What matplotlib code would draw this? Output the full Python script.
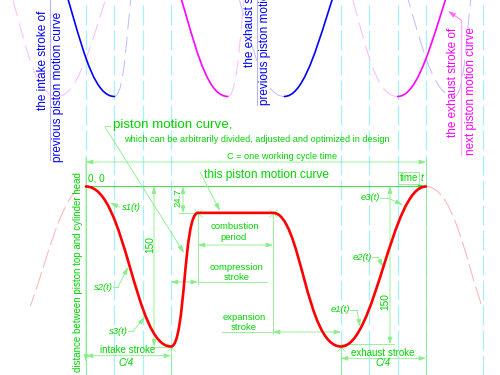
import matplotlib
matplotlib.use("Agg")

import matplotlib.pyplot as plt
from matplotlib.path import Path
from matplotlib.patches import PathPatch, Rectangle

plt.rcParams["font.family"] = ["Liberation Sans", "DejaVu Sans"]

# one working cycle C, measured as crank angle (C = 720)
C = 720
phase_t = [0, 180, 237, 396, 540, 720]
phase_s = [0, 150, 24.7, 24.7, 150, 0]
# bezier handle lengths (leaving, arriving) of each phase, 0 = straight
handle_out = [85, 31, 0, 60, 73]
handle_in = [78, 31, 0, 75, 73]

# previous (blue) and next (magenta) motion curves drawn above this one
copy_dt = [-120, 120]
copy_ds = -234.4
copy_color = ["#0000ff", "#ff00ff"]
copy_faint = ["#bcbcff", "#ffb8ff"]
copy_solid = [0, 4]  # intake and exhaust strokes
# (cycle, phase) pieces shown as faint dashes around the solid strokes
copy_ghost = [[(0, 1), (0, 3), (1, 0), (1, 1)],
              [(-1, 3), (-1, 4), (0, 1), (0, 3)]]

grid_t = [0, 60, 120, 180, 540, 600, 660, 720, 840]

# placement of the drawing on the 500x375 sheet
X0, Y0 = 86, 186.5
KX, KY = 340 / 720, 160 / 150
W, H = 500, 375

LG = "#88ee88"   # drafting lines
GT = "#00d400"   # green text


def t_at(x):
    return (x - X0) / KX


def s_at(y):
    return (y - Y0) / KY


def at(x, y):
    return t_at(x), s_at(y)


def motion_path(phases, cycle=0, dt=0.0, ds=0.0):
    verts, codes = [], []
    for i in phases:
        t0 = phase_t[i] + cycle * C + dt
        t1 = phase_t[i + 1] + cycle * C + dt
        s0, s1 = phase_s[i] + ds, phase_s[i + 1] + ds
        if not verts or verts[-1] != (t0, s0):
            verts.append((t0, s0))
            codes.append(Path.MOVETO)
        if handle_out[i]:
            verts += [(t0 + handle_out[i], s0), (t1 - handle_in[i], s1), (t1, s1)]
            codes += [Path.CURVE4] * 3
        else:
            verts.append((t1, s1))
            codes.append(Path.LINETO)
    return Path(verts, codes)


def draw_path(ax, path, **kw):
    patch = PathPatch(path, fill=False, capstyle="round", joinstyle="round", **kw)
    ax.add_patch(patch)
    return patch


fig = plt.figure(figsize=(5, 3.75), dpi=100)
ax = fig.add_axes([0, 0, 1, 1])
ax.set_xlim(t_at(0), t_at(W))
ax.set_ylim(s_at(H), s_at(0))
ax.axis("off")


def line(p0, p1, color=LG, lw=0.6, **kw):
    ax.plot([p0[0], p1[0]], [p0[1], p1[1]], color=color, lw=lw, **kw)


def dim(p0, p1):
    ax.annotate("", xy=p1, xytext=p0,
                arrowprops=dict(arrowstyle="<|-|>,head_length=0.45,head_width=0.15",
                                color=LG, lw=0.6, shrinkA=0, shrinkB=0,
                                mutation_scale=9))


def leader(p0, p1, color=LG):
    ax.annotate("", xy=p1, xytext=p0,
                arrowprops=dict(arrowstyle="-|>,head_length=0.5,head_width=0.15",
                                color=color, lw=0.6, shrinkA=0, shrinkB=0,
                                mutation_scale=9))


def label(x, y, text, size=7.0, color=GT, **kw):
    kw.setdefault("ha", "center")
    kw.setdefault("va", "center")
    return ax.text(*at(x, y), text, color=color, fontsize=size, **kw)


# cyan time divisions
for t in grid_t:
    ax.axvline(t, color="#a6f0ff", lw=0.9, ls=(0, (16, 4)), zorder=1)

# previous / next curves above
for dt, col, faint, ghost in zip(copy_dt, copy_color, copy_faint, copy_ghost):
    for k, i in ghost:
        draw_path(ax, motion_path([i], k, dt, copy_ds),
                  edgecolor=faint, lw=0.7, linestyle=(0, (16, 8)), zorder=2)
    for i in copy_solid:
        draw_path(ax, motion_path([i], 0, dt, copy_ds), edgecolor=col, lw=1.2, zorder=4)

# this piston motion curve, with faint neighbours
clip = Rectangle((t_at(0), s_at(0)), t_at(W) - t_at(0), 112 - s_at(0),
                 transform=ax.transData)
for phases, k in (([4], -1), ([0], 1)):
    p = draw_path(ax, motion_path(phases, k), edgecolor="#ffb0b0", lw=0.7,
                  linestyle=(0, (18, 6)), zorder=2)
    p.set_clip_path(clip)
draw_path(ax, motion_path(range(5)), edgecolor="#ff0000", lw=1.9, zorder=5)

ax.plot(phase_t[1:5], phase_s[1:5], ls="none", marker="x", ms=6, mew=0.5,
        color=LG, zorder=3)

# axes of the diagram
s_top, s_bot = s_at(158), s_at(H)
line((0, s_top), (0, s_bot))
line((C, s_top), (C, s_bot))
leader((0, s_top), (0, s_at(362)))
leader((0, 0), (C, 0), color="#22dd22")
dim((0, s_at(162)), (C, s_at(162)))
label(282, 157, "C = one working cycle time", size=6.6)
label(88, 179, "0, 0", size=7.2, ha="left")
label(418, 178, "time", size=7.0, ha="right",
      bbox=dict(boxstyle="square,pad=0.12", fc="none", ec=LG, lw=0.6))
label(421, 178, "t", size=7.0, ha="left", style="italic")
label(78, 272, "distance between piston top and cylinder head", size=7.0, rotation=90)

# stroke heights
line((t_at(150), 150), (phase_t[1], 150))
dim((t_at(154), 0), (t_at(154), 150))
label(150, 245, "150", size=7.3, rotation=90)
line((t_at(179), phase_s[2]), (phase_t[2], phase_s[2]))
dim((t_at(183), 0), (t_at(183), phase_s[2]))
label(178, 198, "24.7", size=6.8, rotation=90)
line((phase_t[4], s_at(344)), (t_at(394), s_at(344)))
dim((t_at(390), 0), (t_at(390), s_at(344)))
label(385, 302, "150", size=7.3, rotation=90)

# stroke durations
line((phase_t[1], 150), (phase_t[1], s_bot))
line((phase_t[4], 150), (phase_t[4], s_bot))
dim((0, s_at(355.7)), (phase_t[1], s_at(355.7)))
label(128, 350, "intake stroke")
label(126, 362.5, "C/4", style="italic")
dim((phase_t[4], s_at(358.3)), (C, s_at(358.3)))
label(383, 353.3, "exhaust stroke")
label(383, 363.5, "C/4", style="italic")

line((phase_t[2], phase_s[2]), (phase_t[2], s_at(284)))
line((phase_t[3], phase_s[3]), (phase_t[3], s_at(334)))
dim((phase_t[2], s_at(245)), (phase_t[3], s_at(245)))
label(235, 227, "combustion", size=6.8)
label(234, 238, "period", size=6.8)
dim((phase_t[1], s_at(282)), (phase_t[2], s_at(282)))
line((phase_t[2], s_at(282)), (t_at(267), s_at(282)))
label(237, 267, "compression", size=6.8)
label(237, 278, "stroke", size=6.8)
dim((phase_t[3], s_at(332)), (phase_t[4], s_at(332)))
line((t_at(222), s_at(332)), (phase_t[3], s_at(332)))
label(244, 317, "expansion", size=6.8)
label(244, 328, "stroke", size=6.8)

# curve captions
label(113, 125, "piston motion curve,", size=9.6, ha="left")
line(at(105, 126), at(110, 126))
leader(at(105, 127), at(184, 253))
label(124, 140, "which can be arbitrarily divided, adjusted and optimized in design",
      size=6.6, ha="left")
label(204, 175, "this piston motion curve", size=8.6, ha="left")
leader(at(200, 172), at(220, 211))

for name, tx, ty, pts in [
    ("s1(t)", 122, 208, [(120, 207), (110, 203)]),
    ("s2(t)", 113, 287, [(113, 287), (118, 287), (128, 267)]),
    ("s3(t)", 128, 331, [(128, 331), (133, 331), (145, 317)]),
    ("e1(t)", 350, 310, [(350, 310), (357, 310), (360, 327)]),
    ("e2(t)", 372, 257, [(372, 257), (378, 257), (383, 267)]),
    ("e3(t)", 380, 198, [(380, 198), (388, 198), (403, 205)]),
]:
    ha = "left" if name == "s1(t)" else "right"
    label(tx, ty, name, size=6.8, ha=ha, style="italic")
    for a, b in zip(pts[:-2], pts[1:-1]):
        line(at(*a), at(*b))
    leader(at(*pts[-2]), at(*pts[-1]))

# labels of the neighbouring curves (cut by the sheet edge, as drawn)
for x, y, text, col in [
    (43, 110, "the intake stroke of", "#0000ff"),
    (58, 162, "previous piston motion curve", "#0000ff"),
    (250, 67, "the exhaust stroke of", "#0000ff"),
    (265, 105, "previous piston motion curve", "#0000ff"),
    (453, 137, "the exhaust stroke of", "#ff00ff"),
    (471, 155, "next piston motion curve", "#ff00ff"),
]:
    ax.text(*at(x, y), text, color=col, fontsize=8.5, rotation=90,
            rotation_mode="anchor", ha="left", va="center")
line(at(50, 0), at(50, 160), color="#b4b4ff", lw=0.8)
line(at(257, 0), at(257, 105), color="#b4b4ff", lw=0.8)
line(at(461, 20), at(461, 155), color="#ffacff", lw=0.8)
leader(at(461, 20), at(448, 11), color="#ff66ff")

fig.savefig("out.png", dpi=100)
